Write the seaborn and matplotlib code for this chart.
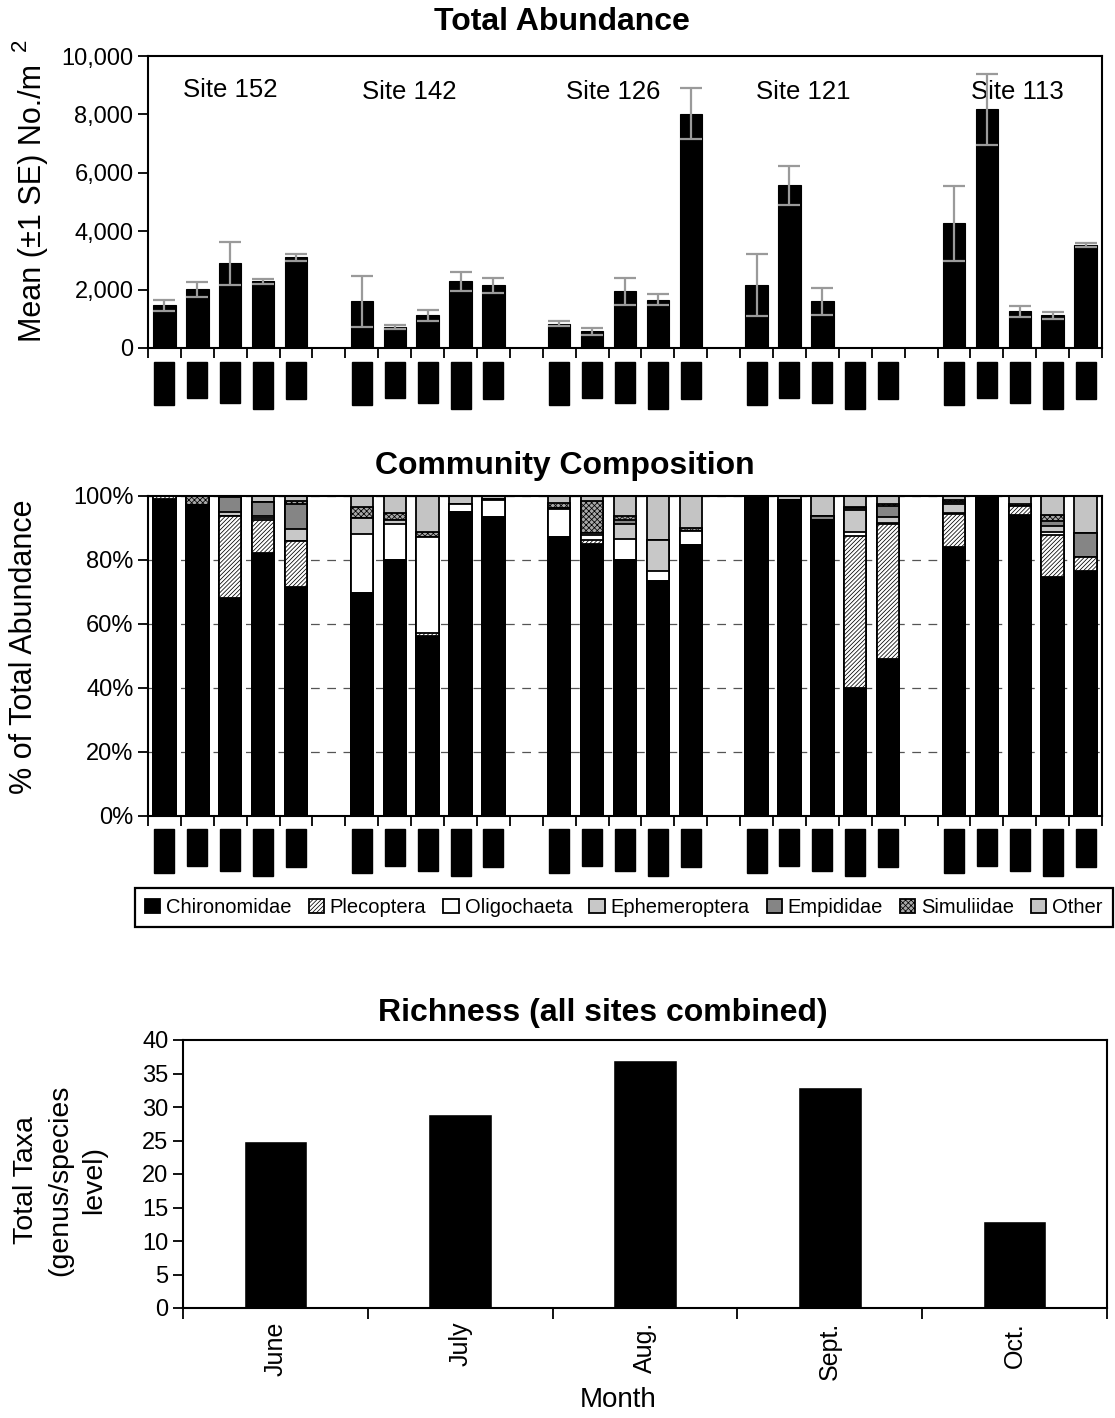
import numpy as np
import pandas as pd
import matplotlib
matplotlib.use("Agg")
import matplotlib.pyplot as plt
import seaborn as sns
from matplotlib.ticker import FuncFormatter

# ---------------- data ----------------
months = ["June", "July", "Aug.", "Sept.", "Oct."]
sites = ["Site 152", "Site 142", "Site 126", "Site 121", "Site 113"]

abund_152 = [1460, 2010, 2900, 2280, 3100]
abund_142 = [1600, 710, 1120, 2280, 2150]
abund_126 = [830, 570, 1940, 1660, 8030]
abund_121 = [2150, 5570, 1600, np.nan, np.nan]
abund_113 = [4270, 8170, 1260, 1120, 3520]

se_152 = [200, 250, 740, 80, 130]
se_142 = [880, 70, 190, 330, 260]
se_126 = [80, 120, 470, 200, 870]
se_121 = [1070, 670, 460, np.nan, np.nan]
se_113 = [1290, 1220, 190, 120, 70]

taxa = ["Chironomidae", "Plecoptera", "Oligochaeta", "Ephemeroptera",
        "Empididae", "Simuliidae", "Other"]
# percent of total abundance, order: Site152 Jun..Oct, Site142 ..., Site113
chiro = [99, 97, 68, 82, 71.5, 69.5, 80, 56, 95, 93.2, 87, 85, 80, 73.3, 84.4,
         100, 98.6, 92.2, 40, 49, 83.8, 100, 94, 74.5, 76.3]
plec = [1, 0, 25.5, 10.5, 14.4, 0, 0, 1, 0, 0, 0, 1.2, 0, 0, 0,
        0, 0, 0, 47.5, 42, 10.4, 0, 2.8, 13.2, 4.5]
olig = [0, 0, 0, 0.5, 0, 18.5, 11, 30, 2.5, 5.3, 8.7, 1.5, 6.5, 3.2, 4.6,
        0, 0, 0, 1, 0.5, 0.3, 0, 0, 0.8, 0]
eph = [0, 0, 1.5, 0.5, 3.5, 5, 1.5, 0, 0, 0, 0.5, 0.5, 4.5, 9.5, 0,
       0, 0, 0, 7, 1.8, 3, 0, 0, 2, 0]
emp = [0, 0, 4.5, 4.5, 8, 0, 0, 0, 0, 0.5, 0, 0, 1.5, 0, 0,
       0, 0, 1.3, 0.5, 3.5, 0.5, 0, 0, 1.5, 7.5]
sim = [0, 3, 0, 0, 1, 3.5, 2, 1.5, 0, 0, 1.5, 10, 1, 0, 1,
       0, 0, 0, 0.5, 0.7, 0.5, 0, 0.7, 2, 0]
other = [0, 0, 0.5, 2, 1.6, 3.5, 5.5, 11.5, 2.5, 1.0, 2.3, 1.8, 6.5, 14, 10,
         0, 1.4, 6.5, 3.5, 2.5, 1.5, 0, 2.5, 6, 11.7]

richness = [25, 29, 37, 33, 13]

# ---------------- style ----------------
sns.set_theme(style="ticks")
plt.rcParams["font.family"] = ["Liberation Sans", "DejaVu Sans"]
plt.rcParams["hatch.linewidth"] = 0.55
plt.rcParams["axes.linewidth"] = 1.5
plt.rcParams["axes.edgecolor"] = "black"
plt.rcParams["text.color"] = "black"
plt.rcParams["axes.labelcolor"] = "black"
plt.rcParams["xtick.color"] = "black"
plt.rcParams["ytick.color"] = "black"
plt.rcParams["xtick.labelcolor"] = "black"
plt.rcParams["ytick.labelcolor"] = "black"

W, H = 1115, 1418
fig = plt.figure(figsize=(W / 100, H / 100), dpi=100)


def ax_rect(l, t, r, b):
    return [l / W, 1 - b / H, (r - l) / W, (b - t) / H]


ax1 = fig.add_axes(ax_rect(148, 56, 1102, 348))
ax2 = fig.add_axes(ax_rect(148, 495.5, 1102, 815.5))
ax3 = fig.add_axes(ax_rect(183, 1040, 1107, 1308))

n_sites, n_months = len(sites), len(months)
pos = np.array([s * (n_months + 1) + m for s in range(n_sites) for m in range(n_months)])
month_lbls = months * n_sites
n_slots = n_sites * (n_months + 1) - 1

TICK_FS = 17


def month_axis(ax):
    ax.set_xlim(-0.5, n_slots - 0.5)
    ax.set_xticks(np.arange(-0.5, n_slots, 1.0))
    ax.set_xticklabels([])
    ax.set_xticks(pos, minor=True)
    ax.set_xticklabels(month_lbls, minor=True, rotation=90, fontsize=13.5)
    ax.tick_params(axis="x", which="major", direction="out", length=7, width=1.3)
    ax.tick_params(axis="x", which="minor", length=0, pad=11)
    for lbl in ax.get_xticklabels(minor=True):
        lbl.set_color("black")
        lbl.set_bbox(dict(facecolor="black", edgecolor="black",
                          boxstyle="square,pad=0.08"))
    ax.tick_params(axis="y", direction="out", length=7, width=1.3,
                   labelsize=TICK_FS)
    for sp in ax.spines.values():
        sp.set_visible(True)
        sp.set_linewidth(1.5)


# ---------------- Total Abundance ----------------
df_ab = pd.DataFrame({
    "pos": pos,
    "abund": np.concatenate([abund_152, abund_142, abund_126, abund_121, abund_113]),
    "se": np.concatenate([se_152, se_142, se_126, se_121, se_113]),
})
df_ab = df_ab.dropna()
sns.barplot(data=df_ab, x="pos", y="abund", native_scale=True, width=0.68,
            color="black", saturation=1, edgecolor="black", linewidth=0.8,
            errorbar=None, ax=ax1)
ax1.errorbar(df_ab["pos"], df_ab["abund"], yerr=df_ab["se"], fmt="none",
             ecolor="#9a9a9a", elinewidth=1.6, capsize=8, capthick=1.6, zorder=5)
ax1.set_ylim(0, 10000)
ax1.set_yticks(np.arange(0, 10001, 2000))
ax1.yaxis.set_major_formatter(FuncFormatter(lambda v, p: f"{int(v):,}"))
ax1.set_xlabel("")
ax1.set_ylabel("")
month_axis(ax1)

site_x = [1.99, 7.43, 13.63, 19.41, 25.94]
site_y = [8840, 8760, 8760, 8760, 8760]
for sx, sy, name in zip(site_x, site_y, sites):
    ax1.text(sx, sy, name, ha="center", va="center", fontsize=18.5, color="black")

# ---------------- Community Composition ----------------
layers = np.array([chiro, plec, olig, eph, emp, sim, other])
tops = np.cumsum(layers, axis=0)
fills = ["black", "white", "white", "#c8c8c8", "#858585", "#a8a8a8", "#c4c4c4"]
hatches = [None, "////////", None, None, None, "xxxxxx", None]
for k in reversed(range(len(taxa))):
    sns.barplot(x=pos, y=tops[k], native_scale=True, width=0.68, color=fills[k],
                saturation=1, edgecolor="black", linewidth=1.3, hatch=hatches[k],
                errorbar=None, label=taxa[k], ax=ax2)
ax2.set_ylim(0, 100)
ax2.set_yticks(np.arange(0, 101, 20))
ax2.yaxis.set_major_formatter(FuncFormatter(lambda v, p: f"{v:.0f}%"))
ax2.yaxis.grid(True, linestyle=(0, (7, 6)), color="#555555", linewidth=0.9)
ax2.set_axisbelow(True)
ax2.set_xlabel("")
ax2.set_ylabel("")
month_axis(ax2)

handles, labels = ax2.get_legend_handles_labels()
if ax2.get_legend() is not None:
    ax2.get_legend().remove()
leg = fig.legend(handles[::-1], labels[::-1], loc="center",
                 bbox_to_anchor=(135 / W, 1 - 928 / H, 978 / W, 41 / H),
                 mode="expand", ncol=7, frameon=True, fancybox=False,
                 framealpha=1, edgecolor="black", handlelength=0.75,
                 handleheight=0.75, handletextpad=0.3, borderpad=0.5,
                 borderaxespad=0, columnspacing=1.0,
                 prop={"family": ["Liberation Sans Narrow", "Liberation Sans"], "size": 14.5})
leg.get_frame().set_linewidth(1.6)

# ---------------- Richness ----------------
df_r = pd.DataFrame({"month": months, "taxa": richness})
sns.barplot(data=df_r, x="month", y="taxa", color="black", saturation=1,
            width=0.345, errorbar=None, ax=ax3)
ax3.set_xlim(-0.5, len(months) - 0.5)
ax3.set_ylim(0, 40)
ax3.set_yticks(np.arange(0, 41, 5))
ax3.set_xticks(np.arange(-0.5, len(months), 1.0))
ax3.set_xticklabels([])
ax3.set_xticks(np.arange(len(months)), minor=True)
ax3.set_xticklabels(months, minor=True, rotation=90, fontsize=18)
ax3.tick_params(axis="x", which="major", direction="out", length=8, width=1.3)
ax3.tick_params(axis="x", which="minor", length=0, pad=10)
ax3.tick_params(axis="y", direction="out", length=7, width=1.3, labelsize=TICK_FS)
for sp in ax3.spines.values():
    sp.set_visible(True)
    sp.set_linewidth(1.5)
ax3.set_xlabel("")
ax3.set_ylabel("")

# ---------------- titles & labels ----------------
fig.text(562 / W, 1 - 22 / H, "Total Abundance", ha="center", va="center",
         fontsize=23, fontweight="bold")
fig.text(565 / W, 1 - 466 / H, "Community Composition", ha="center", va="center",
         fontsize=23, fontweight="bold")
fig.text(603 / W, 1 - 1013 / H, "Richness (all sites combined)", ha="center",
         va="center", fontsize=23, fontweight="bold")

fig.text(33 / W, 1 - 203 / H, "Mean (±1 SE) No./m", rotation=90, ha="center",
         va="center", fontsize=22)
fig.text(20 / W, 1 - 45 / H, "2", rotation=90, ha="center", va="center", fontsize=16)
fig.text(24 / W, 1 - 647 / H, "% of Total Abundance", rotation=90, ha="center",
         va="center", fontsize=22)
fig.text(60 / W, 1 - 1180 / H, "Total Taxa\n(genus/species\nlevel)", rotation=90,
         ha="center", va="center", fontsize=20.5, multialignment="center",
         linespacing=1.4)
fig.text(618 / W, 1 - 1400 / H, "Month", ha="center", va="center", fontsize=20)

fig.savefig("out.png", dpi=100)
